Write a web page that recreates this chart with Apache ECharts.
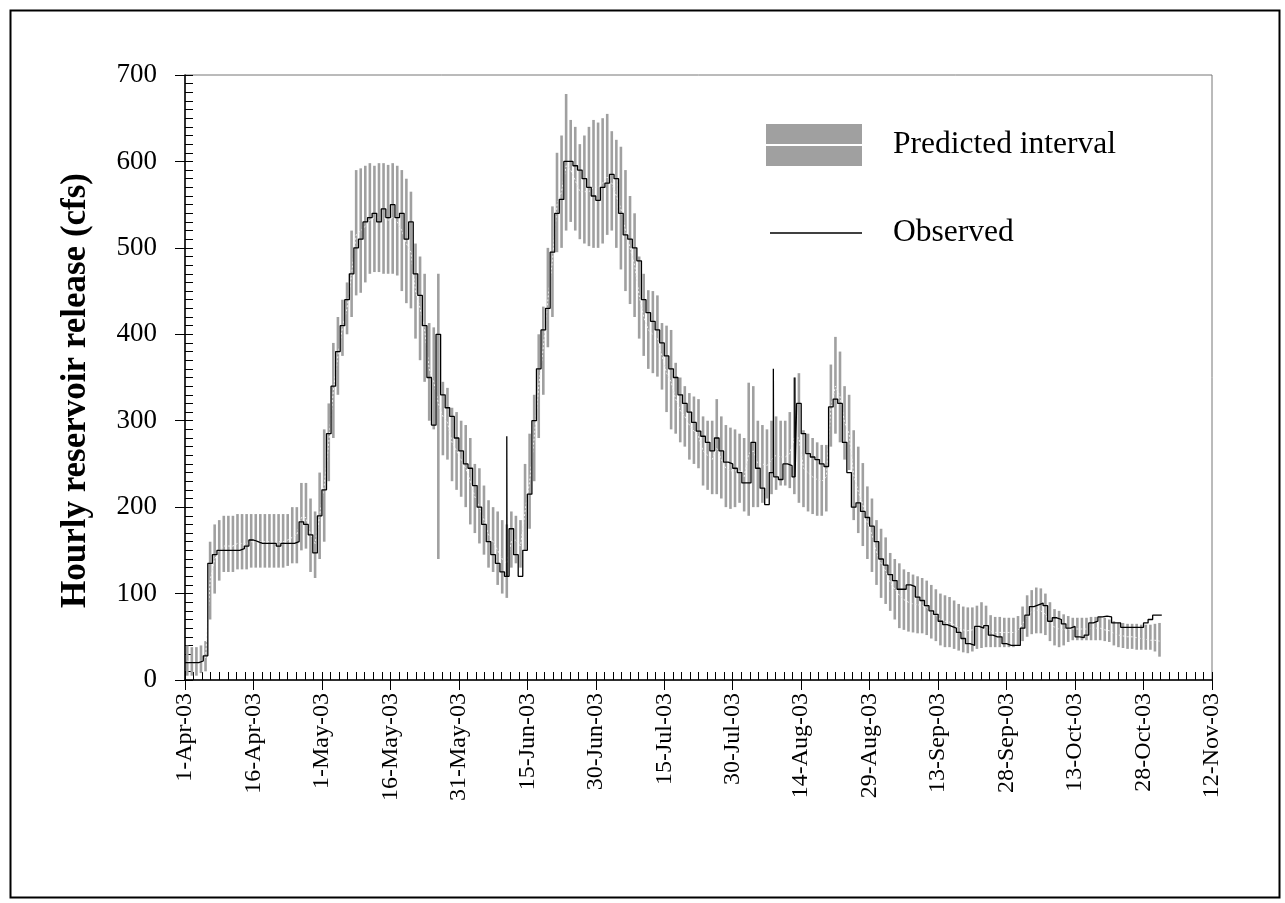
<!DOCTYPE html>
<html>
<head>
<meta charset="utf-8">
<script src="https://cdn.jsdelivr.net/npm/echarts@6/dist/echarts.min.js"></script>
<style>
html,body{margin:0;padding:0;background:#fff;}
#c{width:1285px;height:903px;}
</style>
</head>
<body>
<div id="c"></div>
<script>
// Tick labels (every 15 days starting 1-Apr-03; x value = day index from 1-Apr-03)
const tickLabels = ['1-Apr-03','16-Apr-03','1-May-03','16-May-03','31-May-03','15-Jun-03','30-Jun-03','15-Jul-03','30-Jul-03','14-Aug-03','29-Aug-03','13-Sep-03','28-Sep-03','13-Oct-03','28-Oct-03','12-Nov-03'];

// Observed release, one value per day (day 0 = 1-Apr-03)
const observed = [
  20,20,20,22,28, 135,145,150,150,150, 150,150,152,155,162, 160,158,158,158,158,
  155,158,158,158,160, 183,180,168,147,190, 220,285,340,380,410, 440,470,500,510,530,
  535,540,530,545,535, 550,535,540,510,530, 470,445,410,350,295, 400,330,315,305,280,
  265,250,245,225,200, 180,160,145,135,125, 120,175,145,120,150, 215,300,360,405,430,
  495,540,556,600,600, 595,590,580,570,560, 555,570,575,585,580, 540,515,510,500,485,
  440,425,415,405,390, 375,360,350,330,320, 310,298,288,282,275, 265,280,265,252,250,
  245,240,228,228,275, 245,222,203,240,235, 232,250,248,235,320, 285,262,258,255,250,
  247,316,325,320,275, 240,200,205,195,188, 178,160,140,133,122, 115,105,105,110,108,
  96,92,86,80,76, 68,64,62,60,55, 48,42,40,62,60, 63,52,50,50,42,
  40,40,40,60,75, 85,87,89,86,68, 72,70,65,60,62, 50,49,52,66,68,
  73,74,73,66,66, 61,61,61,61,61, 66,70,75,75,75
];
// Short hourly spikes in the observed record (day position, peak value)
const spikeDay = [70.5, 128.9, 133.6];
const spikeTop = [282, 360, 350];

// Predicted interval, daily lower / upper bounds and central prediction
const predLow = [
  5,5,5,8,10, 70,100,115,125,125, 125,128,128,128,130, 130,130,130,130,130,
  130,130,132,135,135, 150,152,125,118,140, 160,230,280,330,375, 400,420,445,448,460,
  470,472,472,470,470, 470,468,450,436,430, 395,370,345,300,290, 140,260,255,230,220,
  212,200,180,170,158, 145,130,125,110,100, 95,130,135,130,150, 175,230,280,330,385,
  420,495,500,520,530, 520,510,505,502,500, 500,505,515,520,500, 475,450,435,420,395,
  375,360,355,351,336, 310,290,285,275,270, 255,250,245,225,220, 215,215,210,200,198,
  200,205,195,190,200, 200,205,210,215,220, 225,225,222,215,205, 200,195,192,190,190,
  195,270,285,275,255, 243,185,170,155,140, 125,110,95,88,80, 70,60,58,56,55,
  54,54,52,48,45, 40,38,38,36,34, 32,31,33,36,37, 38,38,38,38,38,
  38,38,40,45,50, 53,54,54,52,45, 40,38,40,44,46, 46,46,46,46,46,
  46,45,44,40,38, 37,36,36,35,35, 35,35,33,27
];
const predHigh = [
  40,38,38,40,45, 160,180,185,190,190, 190,192,192,192,192, 192,192,192,192,192,
  192,192,192,200,200, 228,228,210,195,240, 290,320,390,420,440, 460,520,590,592,595,
  598,595,598,598,596, 598,595,590,580,565, 505,490,470,413,408, 470,345,338,315,310,
  300,295,280,250,245, 225,208,200,195,185, 180,195,190,185,250, 285,330,400,432,500,
  548,610,630,678,648, 640,620,630,640,648, 645,650,655,635,625, 617,590,560,540,490,
  470,451,450,445,413, 410,405,367,350,340, 332,328,325,305,300, 300,325,305,295,292,
  290,285,280,344,340, 300,295,290,300,305, 300,300,310,350,355, 289,285,280,275,272,
  272,365,397,380,340, 330,289,270,251,224, 210,185,175,165,147, 140,135,128,125,122,
  120,118,115,110,105, 100,98,96,92,88, 85,84,84,86,90, 86,75,73,73,72,
  72,72,74,85,98, 104,107,106,100,90, 82,80,76,74,72, 72,72,72,73,73,
  73,72,70,68,66, 66,65,65,65,64, 64,64,65,66
];
const predMid = [
  22,20,20,22,25, 115,140,150,155,155, 155,158,158,158,160, 160,160,160,160,160,
  160,160,162,165,168, 188,188,168,158,190, 225,275,335,375,408, 430,470,515,520,525,
  532,535,535,535,532, 535,530,520,505,495, 450,430,405,360,345, 320,305,298,275,265,
  255,245,230,212,200, 185,168,160,150,140, 135,160,162,155,195, 230,280,340,385,440,
  485,550,565,595,590, 578,565,565,565,570, 570,575,582,575,560, 545,520,500,480,445,
  420,405,400,395,375, 355,345,325,312,305, 295,288,282,265,260, 255,268,255,245,242,
  242,242,235,262,265, 250,250,248,255,260, 258,258,262,280,280, 245,240,235,232,230,
  235,315,340,328,298, 285,237,218,203,182, 168,148,135,126,113, 105,98,93,90,88,
  87,86,84,79,75, 70,68,67,64,61, 58,57,58,61,63, 62,56,55,55,55,
  55,55,57,65,74, 79,81,80,76,67, 61,59,58,59,59, 59,59,59,60,60,
  60,58,57,54,52, 51,50,50,49,48, 47,46,46,45
];

// ---- build series data from the arrays ----
const obsData = [];
for (let d = 0; d < observed.length; d++) {
  obsData.push([d, observed[d]]);
  for (let k = 0; k < spikeDay.length; k++) {
    if (spikeDay[k] >= d && spikeDay[k] < d + 1) {
      obsData.push([spikeDay[k], spikeTop[k]]);
      obsData.push([spikeDay[k] + 0.06, observed[d]]);
    }
  }
}
const intervalData = predLow.map((lo, i) => [i + 0.5, lo, predHigh[i]]);
const midData = predMid.map((v, i) => [i + 0.5, v]);

const FONT = 'Liberation Serif';
const chart = echarts.init(document.getElementById('c'), null, {renderer: 'canvas'});
const axisBase = {type: 'value', min: 0, max: 225, interval: 15};
chart.setOption({
  animation: false,
  backgroundColor: '#ffffff',
  graphic: [{
    type: 'rect', left: 8, top: 8, z: 100, silent: true,
    shape: {width: 1269, height: 887},
    style: {fill: 'none', stroke: '#000', lineWidth: 2}
  }],
  grid: {left: 185, right: 73, top: 75, bottom: 223, show: true, borderColor: '#777', borderWidth: 1, backgroundColor: 'transparent'},
  legend: [{
    data: [{name: 'Predicted interval', icon: 'path://M0,0H96V20H0Z M0,22H96V42H0Z'}],
    left: 761, top: 119, itemWidth: 96, itemHeight: 43, orient: 'vertical',
    textStyle: {fontFamily: FONT, fontSize: 31.5, color: '#000', padding: [0, 0, 0, 26]}
  }, {
    data: [{name: 'Observed', icon: 'rect'}],
    left: 765, top: 212, itemWidth: 92, itemHeight: 1.5, orient: 'vertical',
    textStyle: {fontFamily: FONT, fontSize: 31.5, color: '#000', padding: [0, 0, 0, 26]}
  }],
  xAxis: [Object.assign({}, axisBase, {
    position: 'bottom',
    axisLine: {show: true, lineStyle: {color: '#000', width: 1.5}},
    axisTick: {show: true, inside: true, length: 8, lineStyle: {color: '#000'}},
    minorTick: {show: true, splitNumber: 8, length: 8, lineStyle: {color: '#000'}},
    axisLabel: {rotate: 90, fontFamily: FONT, fontSize: 24, color: '#000', margin: 13,
      formatter: v => tickLabels[Math.round(v / 15)]},
    splitLine: {show: false}
  }), Object.assign({}, axisBase, {
    position: 'bottom',
    axisLine: {show: false},
    axisTick: {show: true, inside: false, length: 10, lineStyle: {color: '#000'}},
    axisLabel: {show: false},
    splitLine: {show: false}
  })],
  yAxis: [{
    type: 'value', min: 0, max: 700, interval: 100, position: 'left',
    axisLine: {show: true, lineStyle: {color: '#000', width: 1.5}},
    axisTick: {show: true, inside: true, length: 8, lineStyle: {color: '#000'}},
    minorTick: {show: true, splitNumber: 10, length: 8, lineStyle: {color: '#000'}},
    axisLabel: {fontFamily: FONT, fontSize: 27, color: '#000', margin: 28},
    splitLine: {show: false},
    name: 'Hourly reservoir release (cfs)', nameLocation: 'middle', nameGap: 92,
    nameTextStyle: {fontFamily: FONT, fontSize: 35, fontWeight: 'bold', color: '#000', padding: [0, 26, 0, 0]}
  }, {
    type: 'value', min: 0, max: 700, interval: 100, position: 'left',
    axisLine: {show: false},
    axisTick: {show: true, inside: false, length: 10, lineStyle: {color: '#000'}},
    axisLabel: {show: false},
    splitLine: {show: false}
  }],
  series: [{
    name: 'Predicted interval', type: 'custom', xAxisIndex: 0, yAxisIndex: 0,
    itemStyle: {color: '#a0a0a0'},
    encode: {x: 0, y: [1, 2]},
    data: intervalData,
    renderItem: function (params, api) {
      const x = api.value(0);
      const p1 = api.coord([x, api.value(1)]);
      const p2 = api.coord([x, api.value(2)]);
      return {type: 'rect', shape: {x: p1[0] - 1.3, y: p2[1], width: 2.6, height: p1[1] - p2[1]},
        style: {fill: '#a0a0a0'}};
    },
    z: 1
  }, {
    name: 'Predicted', type: 'line', xAxisIndex: 0, yAxisIndex: 0,
    data: midData, showSymbol: false, symbol: 'none',
    lineStyle: {color: '#efefef', width: 1, type: [2, 2]}, z: 2
  }, {
    name: 'Observed', type: 'line', xAxisIndex: 0, yAxisIndex: 0, step: 'end',
    data: obsData, showSymbol: false, symbol: 'none',
    itemStyle: {color: '#000'},
    lineStyle: {color: '#000', width: 1.3}, z: 3
  }]
});
</script>
</body>
</html>
